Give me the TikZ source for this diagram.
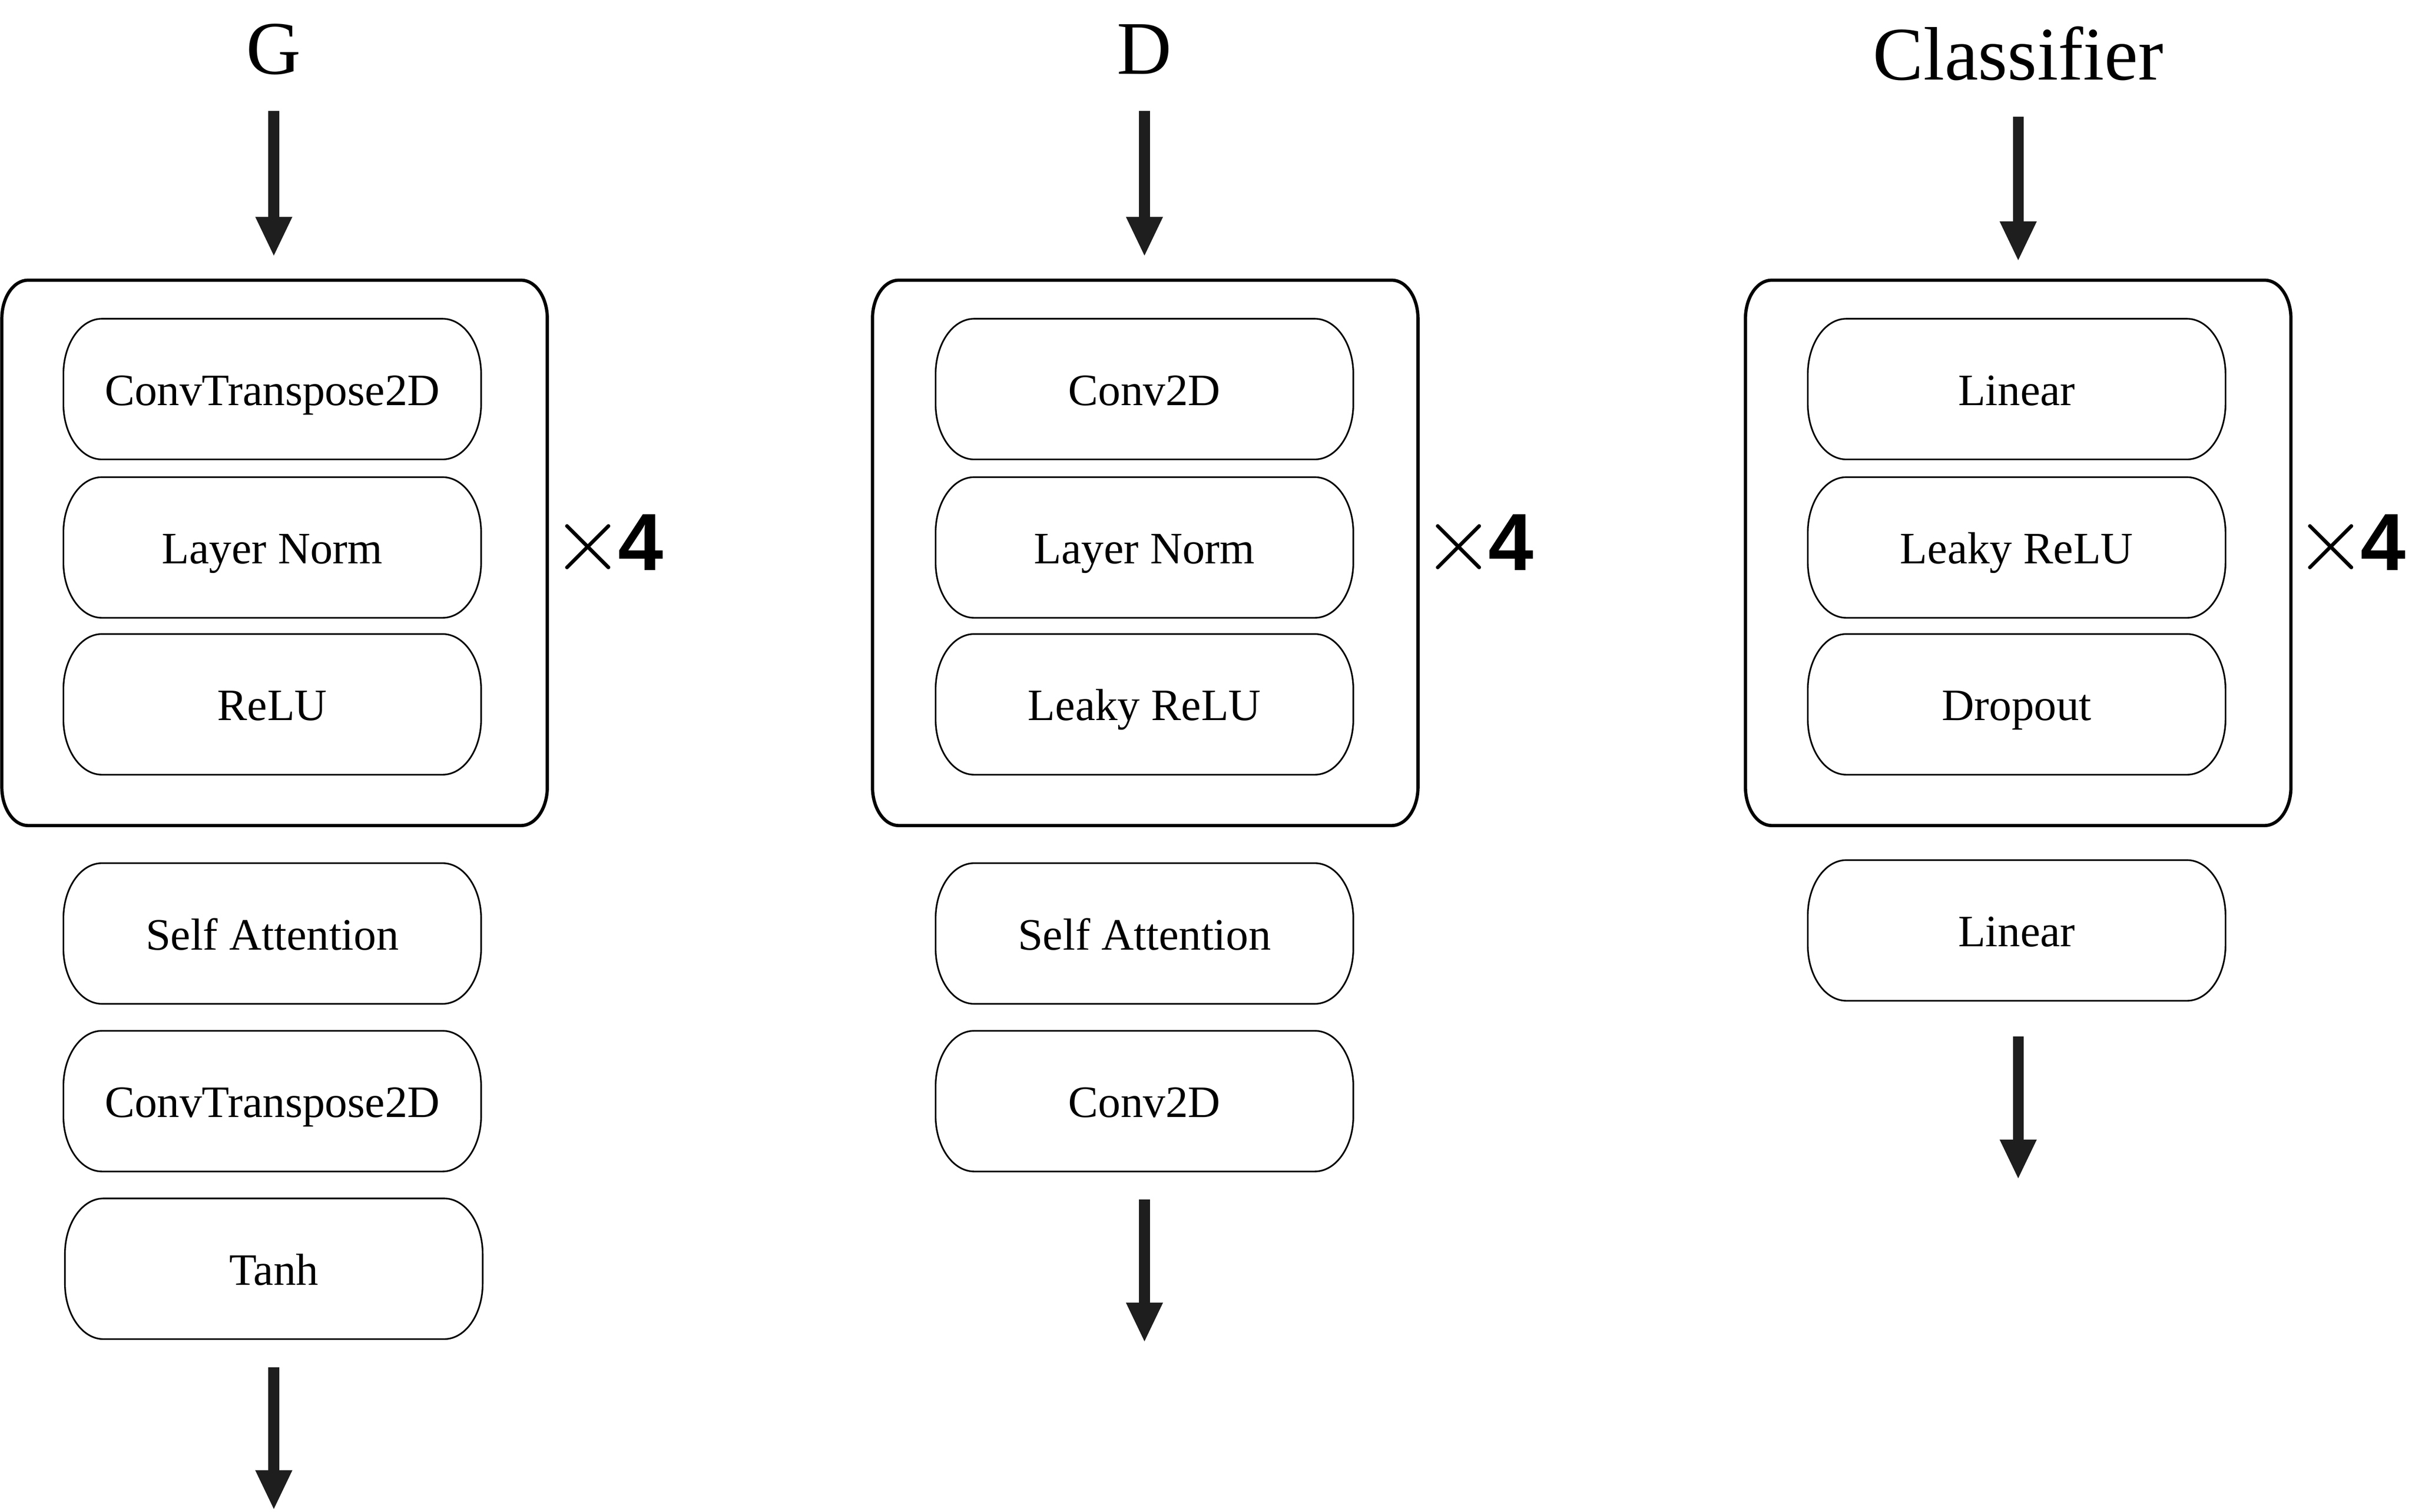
\documentclass[tikz,border=0pt]{standalone}
\usepackage{fontspec}
\setmainfont{Liberation Serif}
\setsansfont{Liberation Sans}
\usetikzlibrary{arrows.meta}
\definecolor{arrowgray}{HTML}{1E1E1E}
% rounded rectangle with elliptical corners around a named node
\newcommand\eoutline[4]{%
  \draw[#4] ([xshift=#2]#1.north west) -- ([xshift=-#2]#1.north east)
    arc[start angle=90,end angle=0,x radius=#2,y radius=#3]
    -- ([yshift=#3]#1.south east)
    arc[start angle=0,end angle=-90,x radius=#2,y radius=#3]
    -- ([xshift=#2]#1.south west)
    arc[start angle=270,end angle=180,x radius=#2,y radius=#3]
    -- ([yshift=-#3]#1.north west)
    arc[start angle=180,end angle=90,x radius=#2,y radius=#3]
    -- cycle;}
\newcommand\timesfour{{\fontsize{17.3}{17}\selectfont$\times$}\kern-1.2pt{\sffamily\bfseries\fontsize{15}{16}\selectfont 4}}
\begin{document}
\begin{tikzpicture}[x=0.01cm,y=-0.01cm,
  layer/.style={minimum width=2.7cm, minimum height=0.9cm, inner sep=0pt,
    text height=0.23cm, text depth=0.02cm, font=\fontsize{8.3}{9}\selectfont},
  outerbox/.style={minimum width=3.53cm, minimum height=3.53cm, inner sep=0pt},
  title/.style={font=\fontsize{14}{16}\selectfont, inner sep=0pt, anchor=base},
  bigarrow/.style={draw=arrowgray, line width=0.07cm,
    -{Triangle[length=0.26cm,width=0.22cm]}},
  rep/.style={inner sep=0pt, anchor=base west},
  thinline/.style={line width=0.3pt},
  thickline/.style={line width=0.6pt}]
\useasboundingbox (0,0) rectangle (1568,983);

% ---------------- G ----------------
\node[title] (gt) at (178,48) {G};
\coordinate (gin0) at (178,72);
\coordinate (gin1) at (178,167);
\draw[bigarrow] (gin0) -- (gin1);
\node[outerbox] (gbox) at (178.5,359.5) {};
\node[layer] (g1) at (177,253) {ConvTranspose2D};
\node[layer] (g2) at (177,356) {Layer Norm};
\node[layer] (g3) at (177,458) {ReLU};
\node[layer] (g4) at (177,607) {Self Attention};
\node[layer] (g5) at (177,716) {ConvTranspose2D};
\node[layer] (g6) at (178,825) {Tanh};
\node[rep] (grep) at (358,371) {\timesfour};
\coordinate (gout0) at (178,889);
\coordinate (gout1) at (178,982);
\draw[bigarrow] (gout0) -- (gout1);

% ---------------- D ----------------
\node[title] (dt) at (744,48) {D};
\coordinate (din0) at (744,72);
\coordinate (din1) at (744,167);
\draw[bigarrow] (din0) -- (din1);
\node[outerbox] (dbox) at (744.5,359.5) {};
\node[layer] (d1) at (744,253) {Conv2D};
\node[layer] (d2) at (744,356) {Layer Norm};
\node[layer] (d3) at (744,458) {Leaky ReLU};
\node[layer] (d4) at (744,607) {Self Attention};
\node[layer] (d5) at (744,716) {Conv2D};
\node[rep] (drep) at (924,371) {\timesfour};
\coordinate (dout0) at (744,780);
\coordinate (dout1) at (744,873);
\draw[bigarrow] (dout0) -- (dout1);

% ---------------- Classifier ----------------
\node[title] (ct) at (1312,52) {Classifier};
\coordinate (cin0) at (1312,76);
\coordinate (cin1) at (1312,170);
\draw[bigarrow] (cin0) -- (cin1);
\node[outerbox] (cbox) at (1312,359.5) {};
\node[layer] (c1) at (1311,253) {Linear};
\node[layer] (c2) at (1311,356) {Leaky ReLU};
\node[layer] (c3) at (1311,458) {Dropout};
\node[layer] (c4) at (1311,605) {Linear};
\node[rep] (crep) at (1491,371) {\timesfour};
\coordinate (cout0) at (1312,674);
\coordinate (cout1) at (1312,767);
\draw[bigarrow] (cout0) -- (cout1);

% outlines
\foreach \n in {gbox,dbox,cbox}{\eoutline{\n}{0.17cm}{0.25cm}{thickline}}
\foreach \n in {g1,g2,g3,g4,g5,g6,d1,d2,d3,d4,d5,c1,c2,c3,c4}{\eoutline{\n}{0.25cm}{0.36cm}{thinline}}
\end{tikzpicture}
\end{document}
